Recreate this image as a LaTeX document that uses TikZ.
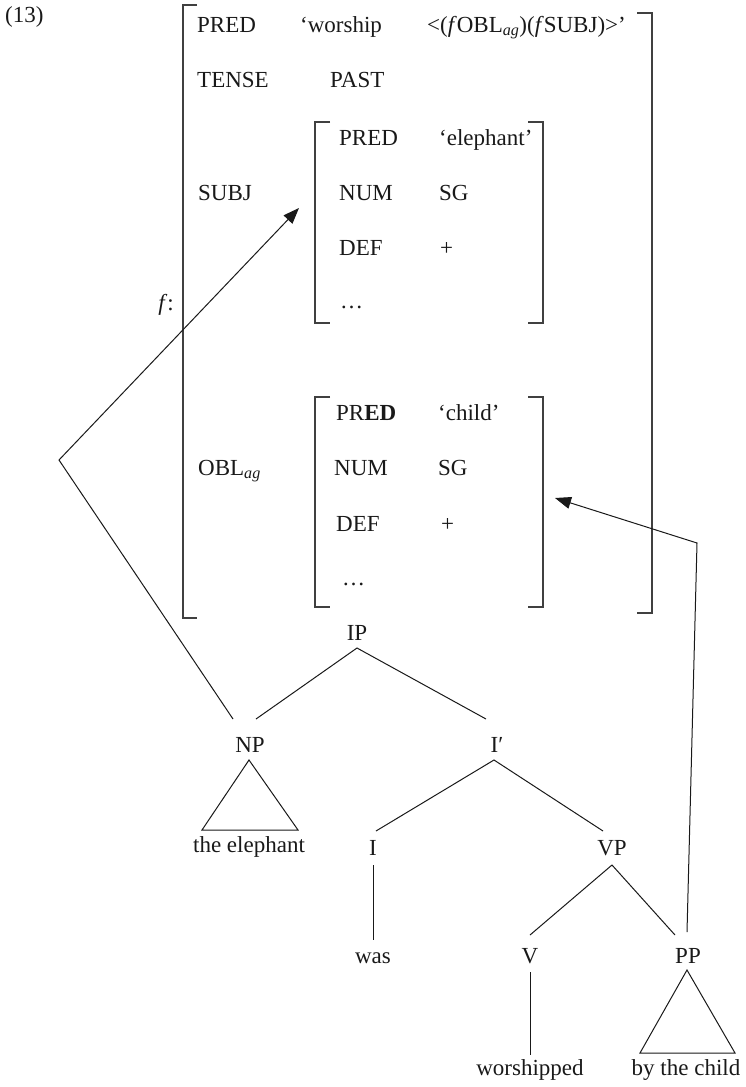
\documentclass[tikz,border=0pt]{standalone}
\usepackage{fontspec}
\setmainfont{Liberation Serif}
\usetikzlibrary{arrows.meta,calc}
\begin{document}
\begin{tikzpicture}[x=1pt,y=-1pt,
  every node/.style={font=\fontsize{23}{27}\selectfont, text=black!90, inner sep=0pt},
  fs/.style={anchor=base west},
  tl/.style={anchor=base},
  brk/.style={draw=black!75, line width=1.3pt},
  ln/.style={draw=black!90, line width=1pt},
  arr/.style={ln, -{Triangle[length=16pt,width=12pt]}},
]
\useasboundingbox (0,0) rectangle (745,1087);
% brackets
\draw[brk] (197,5) -- (183,5) -- (183,618) -- (197,618);
\draw[brk] (637,13) -- (652,13) -- (652,613) -- (637,613);
\draw[brk] (330,122) -- (315,122) -- (315,323) -- (330,323);
\draw[brk] (528,122) -- (543,122) -- (543,323) -- (528,323);
\draw[brk] (330,397) -- (315,397) -- (315,607) -- (330,607);
\draw[brk] (528,397) -- (543,397) -- (543,607) -- (528,607);
% f-structure text
\node[fs] (ex) at (5,22) {(13)};
\node[fs] (pred) at (197,32) {PRED};
\node[fs] (worship) at (300,32) {‘worship};
\node[fs] (args) at (427,32) {<(\textit{f}OBL\textsubscript{\textit{ag}})(\textit{f}SUBJ)>’};
\node[fs] (tense) at (197,87) {TENSE};
\node[fs] (past) at (330,87) {PAST};
\node[fs] (subj) at (198,200) {SUBJ};
\node[fs] (spred) at (339,145) {PRED};
\node[fs] (sval) at (439,145) {‘elephant’};
\node[fs] (snum) at (339,200) {NUM};
\node[fs] (ssg) at (439,200) {SG};
\node[fs] (sdef) at (339,255) {DEF};
\node[fs] (splus) at (440,255) {+};
\node[fs] (sdots) at (340,308) {…};
\node[anchor=base east] (f) at (174,310) {\textit{f}:};
\node[fs] (obl) at (198,475) {OBL\textsubscript{\textit{ag}}};
\node[fs] (opred) at (336,420) {PR\textbf{ED}};
\node[fs] (oval) at (438,420) {‘child’};
\node[fs] (onum) at (334,475) {NUM};
\node[fs] (osg) at (438,475) {SG};
\node[fs] (odef) at (336,531) {DEF};
\node[fs] (oplus) at (441,531) {+};
\node[fs] (odots) at (342,585) {…};
% tree labels
\node[tl] (IP) at (357,640) {IP};
\node[tl] (NP) at (250,752) {NP};
\node[tl] (Ibar) at (497,752) {I′};
\node[tl] (elephant) at (249,852) {the elephant};
\node[tl] (I) at (373,855) {I};
\node[tl] (VP) at (612,855) {VP};
\node[tl] (was) at (373,963) {was};
\node[tl] (V) at (530,963) {V};
\node[tl] (PP) at (688,963) {PP};
\node[tl] (worshipped) at (530,1075) {worshipped};
\node[tl] (child) at (686,1075) {by the child};
% tree lines
\draw[ln] ($(NP.base)+(6,-33)$) -- ($(IP.base)+(0,8)$) -- ($(Ibar.base)+(-11,-33)$);
\draw[ln] ($(NP.base)+(-48,78)$) -- ($(NP.base)+(-1,8)$) -- ($(NP.base)+(48,78)$) -- cycle;
\draw[ln] ($(I.base)+(3,-24)$) -- ($(Ibar.base)+(-3,8)$) -- ($(VP.base)+(-9,-24)$);
\draw[ln] ($(I.base)+(0,10)$) -- ($(was.base)+(0,-23)$);
\draw[ln] ($(V.base)+(0,-28)$) -- ($(VP.base)+(0,10)$) -- ($(PP.base)+(-13,-28)$);
\draw[ln] ($(V.base)+(0,9)$) -- ($(worshipped.base)+(0,-20)$);
\draw[ln] ($(PP.base)+(-48,90)$) -- ($(PP.base)+(-1,7)$) -- ($(PP.base)+(47,90)$) -- cycle;
% correspondence arrows
\coordinate (bend1) at (59,460);
\coordinate (subjpt) at (299,208);
\coordinate (bend2) at (697,543);
\coordinate (oblpt) at (555,498);
\draw[arr] ($(NP.base)+(-17,-33)$) -- (bend1) -- (subjpt);
\draw[arr] ($(PP.base)+(-1,-31)$) -- (bend2) -- (oblpt);
\end{tikzpicture}
\end{document}
